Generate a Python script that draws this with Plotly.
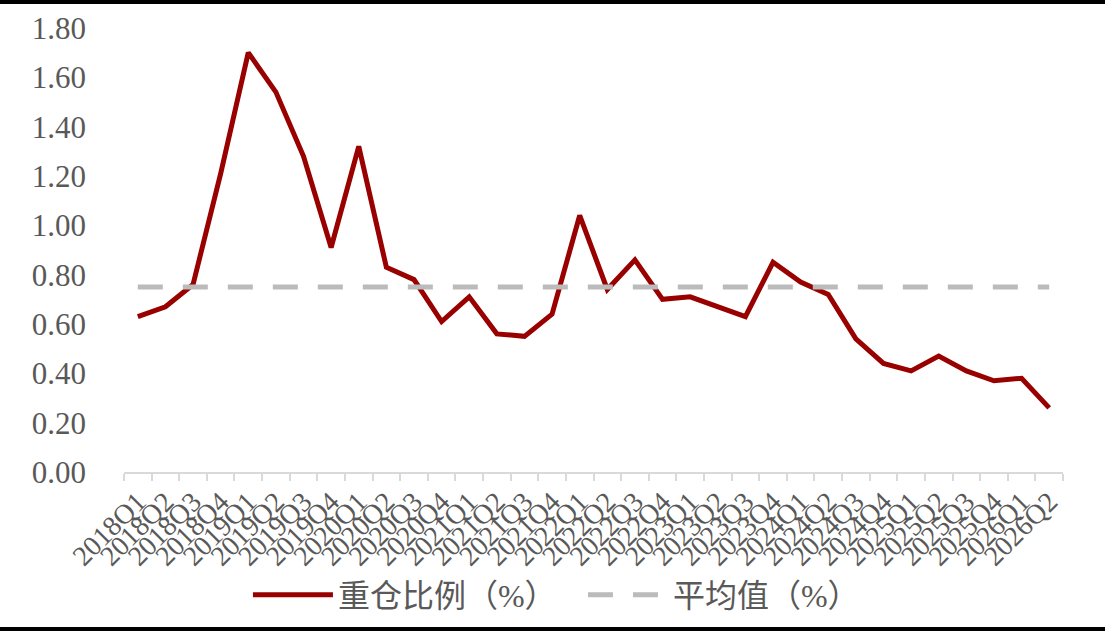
import plotly.graph_objects as go

# ==== 数据 ====
quarters = [
    "2018Q1", "2018Q2", "2018Q3", "2018Q4",
    "2019Q1", "2019Q2", "2019Q3", "2019Q4",
    "2020Q1", "2020Q2", "2020Q3", "2020Q4",
    "2021Q1", "2021Q2", "2021Q3", "2021Q4",
    "2022Q1", "2022Q2", "2022Q3", "2022Q4",
    "2023Q1", "2023Q2", "2023Q3", "2023Q4",
    "2024Q1", "2024Q2", "2024Q3", "2024Q4",
    "2025Q1", "2025Q2", "2025Q3", "2025Q4",
    "2026Q1", "2026Q2",
]
heavy_ratio = [
    0.63, 0.67, 0.76, 1.21,
    1.70, 1.54, 1.28, 0.91,
    1.32, 0.83, 0.78, 0.61,
    0.71, 0.56, 0.55, 0.64,
    1.04, 0.74, 0.86, 0.70,
    0.71, 0.67, 0.63, 0.85,
    0.77, 0.72, 0.54, 0.44,
    0.41, 0.47, 0.41, 0.37,
    0.38, 0.26,
]
avg_value = 0.75
avg_line = [avg_value] * len(quarters)

y_ticks = [0, 0.2, 0.4, 0.6, 0.8, 1.0, 1.2, 1.4, 1.6, 1.8]

font_family = "Liberation Serif, Noto Sans CJK SC, serif"
grey_text = "#595959"

fig = go.Figure()
fig.add_trace(go.Scatter(
    x=quarters, y=heavy_ratio, mode="lines",
    name="重仓比例（%）",
    line=dict(color="#990000", width=5),
))
fig.add_trace(go.Scatter(
    x=quarters, y=avg_line, mode="lines",
    name="平均值（%）",
    line=dict(color="#BBBBBB", width=5, dash="25px,20px"),
))

# 上下黑色边线（paper 坐标，绘图区高 444px，底边在 472px）
fig.add_shape(type="rect", xref="paper", yref="paper",
              x0=-0.2, x1=(1105 - 124) / 939, y0=(472 - 4) / 444, y1=(472 + 2) / 444,
              fillcolor="black", line=dict(width=0), layer="above")
fig.add_shape(type="rect", xref="paper", yref="paper",
              x0=-0.2, x1=(1105 - 124) / 939, y0=-(631 - 472) / 444, y1=-(627 - 472) / 444,
              fillcolor="black", line=dict(width=0), layer="above")

fig.update_layout(
    width=1112, height=638,
    margin=dict(l=124, r=49, t=28, b=166),
    paper_bgcolor="white", plot_bgcolor="white",
    font=dict(family=font_family, color=grey_text, size=26),
    showlegend=True,
    legend=dict(
        orientation="h", x=0.132, xanchor="left",
        y=-0.277, yanchor="middle",
        font=dict(size=32, color=grey_text),
        itemwidth=80,
        entrywidth=240, entrywidthmode="pixels",
        bgcolor="rgba(0,0,0,0)",
    ),
    xaxis=dict(
        type="category",
        range=[-0.5, len(quarters) - 0.5],
        tickmode="array", tickvals=quarters, ticktext=quarters,
        showgrid=False, zeroline=False,
        showline=True, linecolor="#D9D9D9", linewidth=2,
        ticks="outside", tickson="boundaries", ticklen=7, tickcolor="#D9D9D9", tickwidth=1.5,
        tickangle=-45,
        tickfont=dict(size=28, color=grey_text),
        automargin=False,
    ),
    yaxis=dict(
        range=[0, 1.8],
        tickvals=y_ticks, tickformat=".2f",
        showgrid=False, zeroline=False, showline=False,
        ticks="", ticklabelstandoff=37,
        tickfont=dict(size=31, color=grey_text),
        automargin=False,
    ),
)

# 去掉页面默认边距
fig.write_html("out.html", config={"displayModeBar": False},
               post_script="document.body.style.margin='0px';")
